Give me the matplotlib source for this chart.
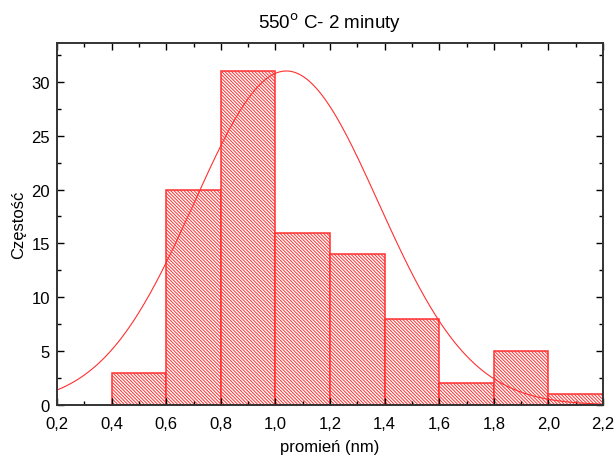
import numpy as np
import matplotlib.pyplot as plt
from matplotlib.ticker import MultipleLocator, FuncFormatter

plt.rcParams['font.family'] = ['Liberation Sans', 'DejaVu Sans']
plt.rcParams['hatch.linewidth'] = 0.7
plt.rcParams['hatch.color'] = '#ff3535'

# histogram bins (left edges) and counts
bin_left = [0.4, 0.6, 0.8, 1.0, 1.2, 1.4, 1.6, 1.8, 2.0]
counts = [3, 20, 31, 16, 14, 8, 2, 5, 1]
bin_width = 0.2

# gaussian fit
fit_center = 1.04
fit_sigma = 0.337
fit_height = 31.0

fig = plt.figure(figsize=(6.16, 4.56), dpi=100)
ax = fig.add_axes([0.0925, 0.1096, 0.8865, 0.794])

ax.bar(bin_left, counts, width=bin_width, align='edge', facecolor='white',
       edgecolor='#ff3030', linewidth=1.1, hatch='\\' * 10)

xs = np.linspace(0.2, 2.2, 400)
ys = fit_height * np.exp(-(xs - fit_center) ** 2 / (2 * fit_sigma ** 2))
ax.plot(xs, ys, color='#ff3030', linewidth=0.8)

ax.set_xlim(0.2, 2.2)
ax.set_ylim(0, 33.6)
ax.xaxis.set_major_locator(MultipleLocator(0.2))
ax.xaxis.set_minor_locator(MultipleLocator(0.1))
ax.yaxis.set_major_locator(MultipleLocator(5))
ax.yaxis.set_minor_locator(MultipleLocator(2.5))
ax.xaxis.set_major_formatter(FuncFormatter(lambda v, p: f"{v:.1f}".replace('.', ',')))

ax.tick_params(which='both', direction='in', top=True, right=True, labelsize=12)
ax.tick_params(axis='x', pad=8)
ax.tick_params(axis='y', pad=5)
ax.tick_params(which='major', length=5, width=1)
ax.tick_params(which='minor', length=3, width=1)
for s in ax.spines.values():
    s.set_linewidth(1.4)
    s.set_color('#333333')

ax.set_xlabel('promień (nm)', fontsize=12, labelpad=6)
ax.set_ylabel('Częstość', fontsize=12, labelpad=4)
ax.set_title('550$^{\\mathrm{o}}$ C- 2 minuty', fontsize=13.5, pad=11)

fig.savefig('out.png', dpi=100)
